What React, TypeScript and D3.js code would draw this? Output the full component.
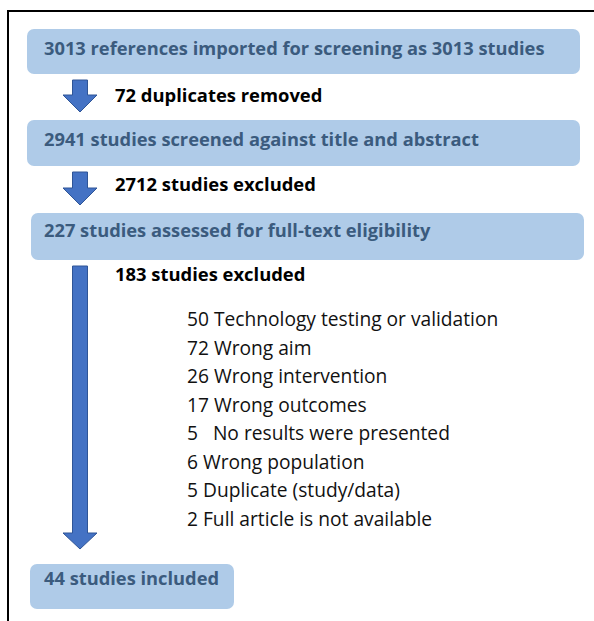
import React from "react";
import * as d3 from "d3";

// flow stages (boxes)
const stageLabels = [
  "3013 references imported for screening as 3013 studies",
  "2941 studies screened against title and abstract",
  "227 studies assessed for full-text eligibility",
  "44 studies included",
];

// removal notes beside the arrows
const removedLabels = ["72 duplicates removed", "2712 studies excluded", "183 studies excluded"];

// full-text exclusion reasons
const reasonCounts = ["50", "72", "26", "17", "5  ", "6", "5", "2"];
const reasonLabels = [
  "Technology testing or validation",
  "Wrong aim",
  "Wrong intervention",
  "Wrong outcomes",
  "No results were presented",
  "Wrong population",
  "Duplicate (study/data)",
  "Full article is not available",
];

const W = 594;
const H = 621;
const boxFill = "#AFCBE8";
const boxText = "#3B5B7E";
const arrowFill = "#4472C4";
const arrowStroke = "#2F5597";
const font = "'Open Sans', Lato, sans-serif";

// box geometry [x0, x1, y0, y1]
const boxes = [
  [27, 580, 29, 74],
  [27, 580, 120, 166],
  [31, 584, 213, 260],
  [30, 234, 564, 609],
];

function downArrow(cx: number, top: number, tip: number, shaftW: number, headW: number, headH: number) {
  const p = d3.path();
  p.moveTo(cx - shaftW / 2, top);
  p.lineTo(cx + shaftW / 2, top);
  p.lineTo(cx + shaftW / 2, tip - headH);
  p.lineTo(cx + headW / 2, tip - headH);
  p.lineTo(cx, tip);
  p.lineTo(cx - headW / 2, tip - headH);
  p.lineTo(cx - shaftW / 2, tip - headH);
  p.closePath();
  return p.toString();
}

export default function App() {
  const y = d3
    .scaleLinear()
    .domain([0, reasonLabels.length - 1])
    .range([326, 525.5]);

  const arrows = [
    { top: 80, tip: 112, head: 17 },
    { top: 172, tip: 205, head: 17 },
    { top: 266, tip: 549, head: 16 },
  ];
  const removedY = [102, 191, 281];

  return (
    <svg
      width={W}
      height={H}
      style={{ position: "absolute", left: 0, top: 0, background: "#fff" }}
    >
      <rect x={8} y={11} width={W + 10} height={H + 10} fill="none" stroke="#000" strokeWidth={2} />

      {boxes.map((b, i) => (
        <g key={i}>
          <rect x={b[0]} y={b[2]} width={b[1] - b[0]} height={b[3] - b[2]} rx={7} fill={boxFill} />
          <text
            x={44}
            y={b[2] + (i === 3 ? 21 : i === 2 ? 24 : 26)}
            fontFamily={font}
            fontWeight={700}
            fontSize={18.3}
            fill={boxText}
          >
            {stageLabels[i]}
          </text>
        </g>
      ))}

      {arrows.map((a, i) => (
        <path
          key={i}
          d={downArrow(80, a.top, a.tip, 15, 34, a.head)}
          fill={arrowFill}
          stroke={arrowStroke}
          strokeWidth={1}
        />
      ))}

      {removedLabels.map((t, i) => (
        <text key={t} x={115} y={removedY[i]} fontFamily={font} fontWeight={700} fontSize={18.4} fill="#000">
          {t}
        </text>
      ))}

      {reasonLabels.map((t, i) => (
        <text key={t} x={187} y={y(i)} fontFamily={font} fontSize={19.2} fill="#111" style={{ whiteSpace: "pre" }}>
          {reasonCounts[i] + " " + t}
        </text>
      ))}
    </svg>
  );
}
